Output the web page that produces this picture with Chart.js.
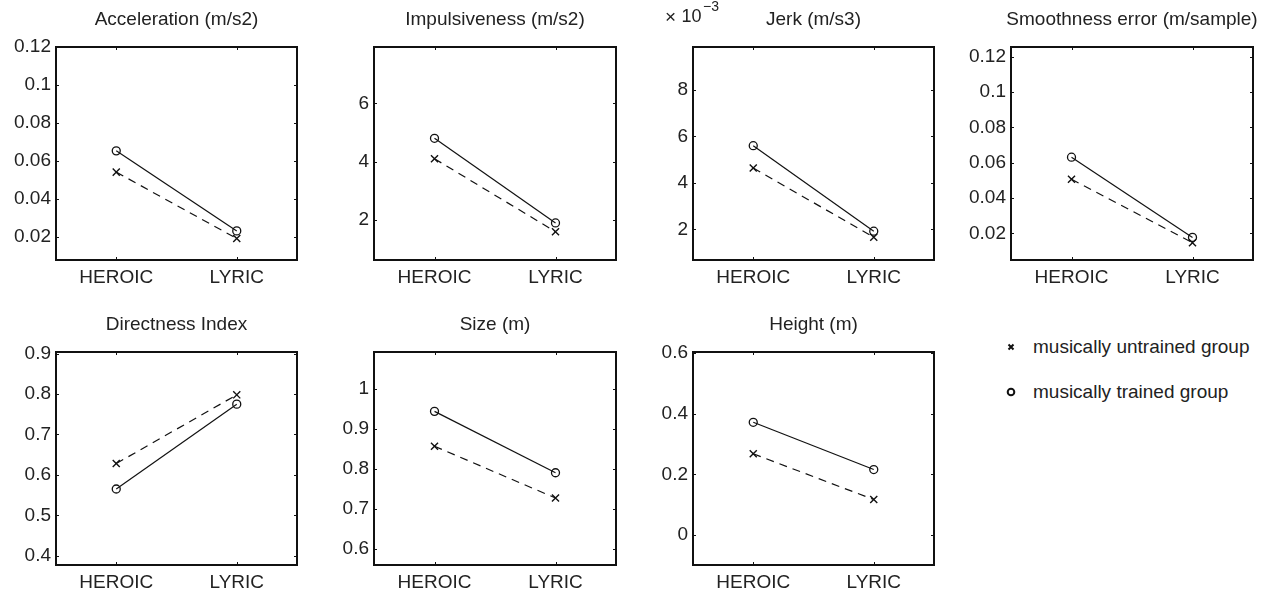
<!DOCTYPE html>
<html>
<head>
<meta charset="utf-8">
<script src="https://cdn.jsdelivr.net/npm/chart.js@4.4.1/dist/chart.umd.min.js"></script>
<style>
  html, body { margin: 0; padding: 0; background: #fff; width: 1266px; height: 590px; overflow: hidden; position: relative; }
  canvas { position: absolute; }
  .legend-row { position: absolute; left: 1033px; font: 19px "Liberation Sans", Arial, sans-serif; line-height: 22px; color: #222; white-space: nowrap; }
</style>
</head>
<body>
<script>
// x axis categories
const categories = ['HEROIC', 'LYRIC'];

// values, [HEROIC, LYRIC]
const accelTrained = [0.0654, 0.0233];
const accelUntrained = [0.0542, 0.0193];
const impulseTrained = [4.80, 1.90];
const impulseUntrained = [4.10, 1.60];
const jerkTrained = [5.60, 1.92];      // x 10^-3
const jerkUntrained = [4.64, 1.66];    // x 10^-3
const smoothTrained = [0.0631, 0.0177];
const smoothUntrained = [0.0506, 0.0147];
const directTrained = [0.565, 0.775];
const directUntrained = [0.628, 0.798];
const sizeTrained = [0.943, 0.790];
const sizeUntrained = [0.856, 0.727];
const heightTrained = [0.372, 0.216];
const heightUntrained = [0.268, 0.117];

// y tick labels per panel
const accelTicks = [0.02, 0.04, 0.06, 0.08, 0.1, 0.12];
const impulseTicks = [2, 4, 6];
const jerkTicks = [2, 4, 6, 8];
const smoothTicks = [0.02, 0.04, 0.06, 0.08, 0.1, 0.12];
const directTicks = [0.4, 0.5, 0.6, 0.7, 0.8, 0.9];
const sizeTicks = [0.6, 0.7, 0.8, 0.9, 1];
const heightTicks = [0, 0.2, 0.4, 0.6];

const FONT = '"Liberation Sans", Arial, sans-serif';
const INK = '#111';
const TEXT = '#222';

// box = [left, top, width, height] of each plot frame
const panels = [
  { title: 'Acceleration (m/s2)', trained: accelTrained, untrained: accelUntrained, ticks: accelTicks, range: [0.008, 0.12], box: [56, 47, 241, 213] },
  { title: 'Impulsiveness (m/s2)', trained: impulseTrained, untrained: impulseUntrained, ticks: impulseTicks, range: [0.63, 7.93], box: [374, 47, 242, 213] },
  { title: 'Jerk (m/s3)', trained: jerkTrained, untrained: jerkUntrained, ticks: jerkTicks, range: [0.68, 9.85], box: [693, 47, 241, 213], exponent: true },
  { title: 'Smoothness error (m/sample)', trained: smoothTrained, untrained: smoothUntrained, ticks: smoothTicks, range: [0.0049, 0.1255], box: [1011, 47, 242, 213] },
  { title: 'Directness Index', trained: directTrained, untrained: directUntrained, ticks: directTicks, range: [0.377, 0.904], box: [56, 352, 241, 213] },
  { title: 'Size (m)', trained: sizeTrained, untrained: sizeUntrained, ticks: sizeTicks, range: [0.56, 1.091], box: [374, 352, 242, 213] },
  { title: 'Height (m)', trained: heightTrained, untrained: heightUntrained, ticks: heightTicks, range: [-0.099, 0.604], box: [693, 352, 241, 213] }
];

// frame, inward ticks, title and the x10^-3 note
const panelDeco = {
  id: 'panelDeco',
  afterDraw(chart, args, opts) {
    const { ctx, chartArea: a, scales } = chart;
    ctx.save();
    ctx.strokeStyle = INK;
    ctx.lineWidth = 1;
    scales.y.ticks.forEach(t => {
      const y = Math.round(scales.y.getPixelForValue(t.value)) + 0.5;
      ctx.beginPath();
      ctx.moveTo(a.left, y); ctx.lineTo(a.left + 3, y);
      ctx.moveTo(a.right, y); ctx.lineTo(a.right - 3, y);
      ctx.stroke();
    });
    scales.x.ticks.forEach(t => {
      const x = Math.round(scales.x.getPixelForValue(t.value)) + 0.5;
      ctx.beginPath();
      ctx.moveTo(x, a.top); ctx.lineTo(x, a.top + 3);
      ctx.moveTo(x, a.bottom); ctx.lineTo(x, a.bottom - 3);
      ctx.stroke();
    });
    ctx.lineWidth = 2;
    ctx.strokeRect(a.left, a.top, a.right - a.left, a.bottom - a.top);

    ctx.fillStyle = TEXT;
    ctx.font = '19px ' + FONT;
    ctx.textAlign = 'center';
    ctx.textBaseline = 'middle';
    ctx.fillText(opts.title, (a.left + a.right) / 2, a.top - 27);

    if (opts.exponent) {
      ctx.textAlign = 'left';
      const x0 = a.left - 28;
      ctx.font = '19px ' + FONT;
      ctx.fillText('\u00d7', x0, a.top - 29.5);
      ctx.font = '18px ' + FONT;
      ctx.fillText('10', x0 + 16.5, a.top - 29.5);
      ctx.font = '14px ' + FONT;
      ctx.fillText('\u22123', x0 + 38, a.top - 39.5);
    }
    ctx.restore();
  }
};

function makeChart(p) {
  const padL = 56, padR = 14, padT = 47, padB = 34;
  const canvas = document.createElement('canvas');
  canvas.width = p.box[2] + padL + padR;
  canvas.height = p.box[3] + padT + padB;
  canvas.style.left = (p.box[0] - padL) + 'px';
  canvas.style.top = (p.box[1] - padT) + 'px';
  document.body.appendChild(canvas);

  const toPoints = arr => arr.map((v, i) => ({ x: i + 1, y: v }));

  new Chart(canvas, {
    type: 'line',
    data: {
      datasets: [
        {
          label: 'musically untrained group',
          data: toPoints(p.untrained),
          borderColor: INK,
          borderWidth: 1.2,
          borderDash: [8, 6],
          pointStyle: 'crossRot',
          pointRadius: 5,
          pointBorderWidth: 1.4,
          pointBorderColor: INK,
          pointBackgroundColor: 'transparent'
        },
        {
          label: 'musically trained group',
          data: toPoints(p.trained),
          borderColor: INK,
          borderWidth: 1.2,
          pointStyle: 'circle',
          pointRadius: 4,
          pointBorderWidth: 1.3,
          pointBorderColor: INK,
          pointBackgroundColor: 'transparent'
        }
      ]
    },
    options: {
      responsive: false,
      animation: false,
      layout: { padding: { top: padT, left: 0, right: padR, bottom: 0 } },
      plugins: {
        legend: { display: false },
        tooltip: { enabled: false },
        panelDeco: { title: p.title, exponent: !!p.exponent }
      },
      scales: {
        x: {
          type: 'linear',
          min: 0.5,
          max: 2.5,
          grid: { display: false, drawTicks: false },
          border: { display: false },
          afterBuildTicks: s => { s.ticks = [{ value: 1 }, { value: 2 }]; },
          afterFit: s => { s.height = padB; },
          ticks: {
            padding: 6,
            color: TEXT,
            maxRotation: 0,
            autoSkip: false,
            font: { family: FONT, size: 19 },
            callback: v => categories[v - 1] || ''
          }
        },
        y: {
          min: p.range[0],
          max: p.range[1],
          grid: { display: false, drawTicks: false },
          border: { display: false },
          afterBuildTicks: s => { s.ticks = p.ticks.map(v => ({ value: v })); },
          afterFit: s => { s.width = padL; },
          ticks: {
            padding: 5,
            color: TEXT,
            font: { family: FONT, size: 19 },
            callback: v => String(+Number(v).toFixed(4))
          }
        }
      }
    },
    plugins: [panelDeco]
  });
}

panels.forEach(makeChart);

// legend in the empty eighth slot
const legendItems = [
  { text: 'musically untrained group', style: 'crossRot', y: 347 },
  { text: 'musically trained group', style: 'circle', y: 392 }
];

legendItems.forEach(item => {
  const mark = document.createElement('canvas');
  mark.width = 14; mark.height = 14;
  mark.style.left = (1011 - 7) + 'px';
  mark.style.top = (item.y - 7) + 'px';
  document.body.appendChild(mark);
  const c = mark.getContext('2d');
  c.strokeStyle = INK;
  c.lineWidth = 2;
  c.beginPath();
  if (item.style === 'circle') {
    c.arc(7, 7, 3.3, 0, Math.PI * 2);
  } else {
    c.moveTo(4.5, 4.5); c.lineTo(9.5, 9.5);
    c.moveTo(9.5, 4.5); c.lineTo(4.5, 9.5);
  }
  c.stroke();

  const label = document.createElement('div');
  label.className = 'legend-row';
  label.style.top = (item.y - 11) + 'px';
  label.textContent = item.text;
  document.body.appendChild(label);
});
</script>
</body>
</html>
